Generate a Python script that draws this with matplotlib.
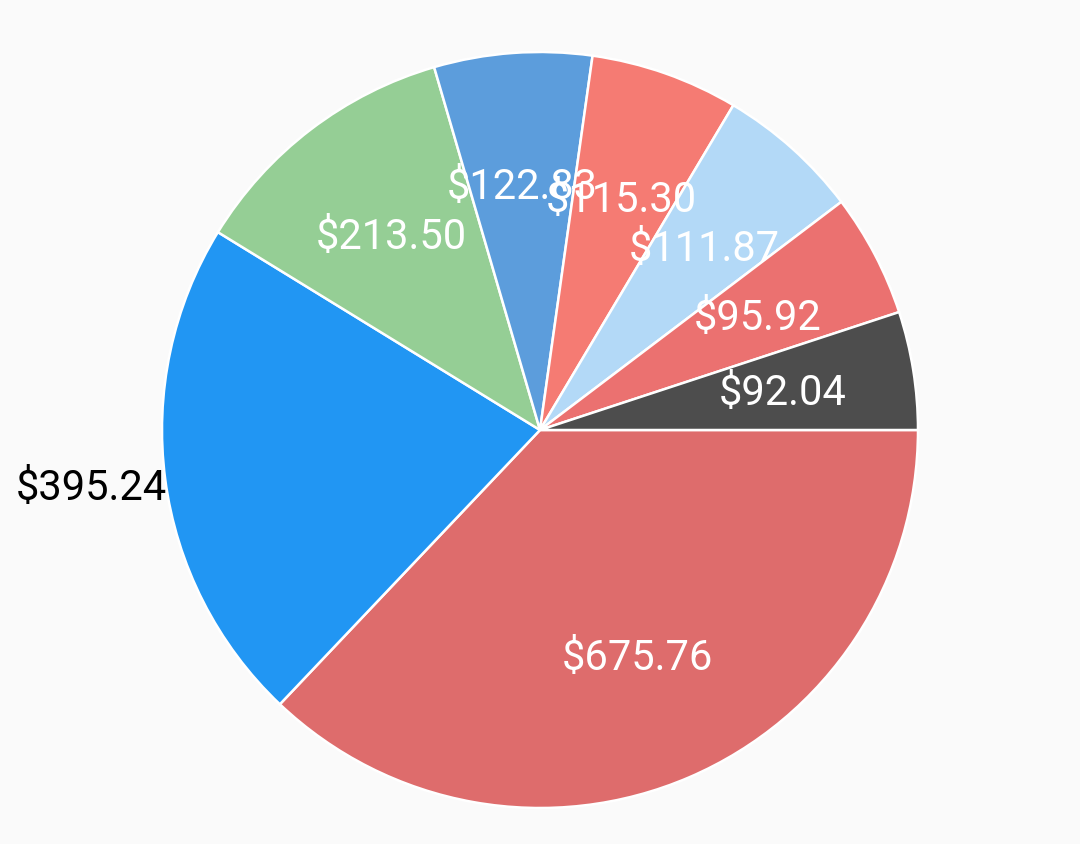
import numpy as np
import matplotlib
matplotlib.use("Agg")
import matplotlib.pyplot as plt

values = [675.76, 395.24, 213.50, 122.83, 115.30, 111.87, 95.92, 92.04]
labels = ["$675.76", "$395.24", "$213.50", "$122.83", "$115.30", "$111.87", "$95.92", "$92.04"]
colors = ["#DE6C6C", "#2196F3", "#95CE95", "#5C9DDC", "#F57B73", "#B3D9F7", "#EB7170", "#4D4D4D"]
outside = [False, True, False, False, False, False, False, False]

plt.rcParams['font.family'] = ['Roboto', 'DejaVu Sans']

W, H = 1080, 844
fig = plt.figure(figsize=(W / 100, H / 100), dpi=100, facecolor="#FAFAFA")
cx, cy, r = 540, 430, 378
ax = fig.add_axes([(cx - r) / W, (H - cy - r) / H, 2 * r / W, 2 * r / H])
ax.set_facecolor("#FAFAFA")
ax.axis("off")

wedges, _ = ax.pie(values, colors=colors, startangle=0, counterclock=False, radius=1.0,
                   wedgeprops=dict(edgecolor="white", linewidth=1.8))
ax.set_xlim(-1, 1)
ax.set_ylim(-1, 1)

total = sum(values)
start = 0.0
for v, lab, out in zip(values, labels, outside):
    ang = start - v / total * 360 / 2
    start -= v / total * 360
    a = np.deg2rad(ang)
    if out:
        ax.text(np.cos(a) * 0.995, np.sin(a) * 0.995 - 0.025, lab, ha="right", va="center",
                color="black", fontsize=30)
    else:
        ax.text(np.cos(a) * 0.65, np.sin(a) * 0.65 - 0.007, lab, ha="center", va="center",
                color="white", fontsize=30)

fig.savefig("out.png", dpi=100, facecolor="#FAFAFA")
